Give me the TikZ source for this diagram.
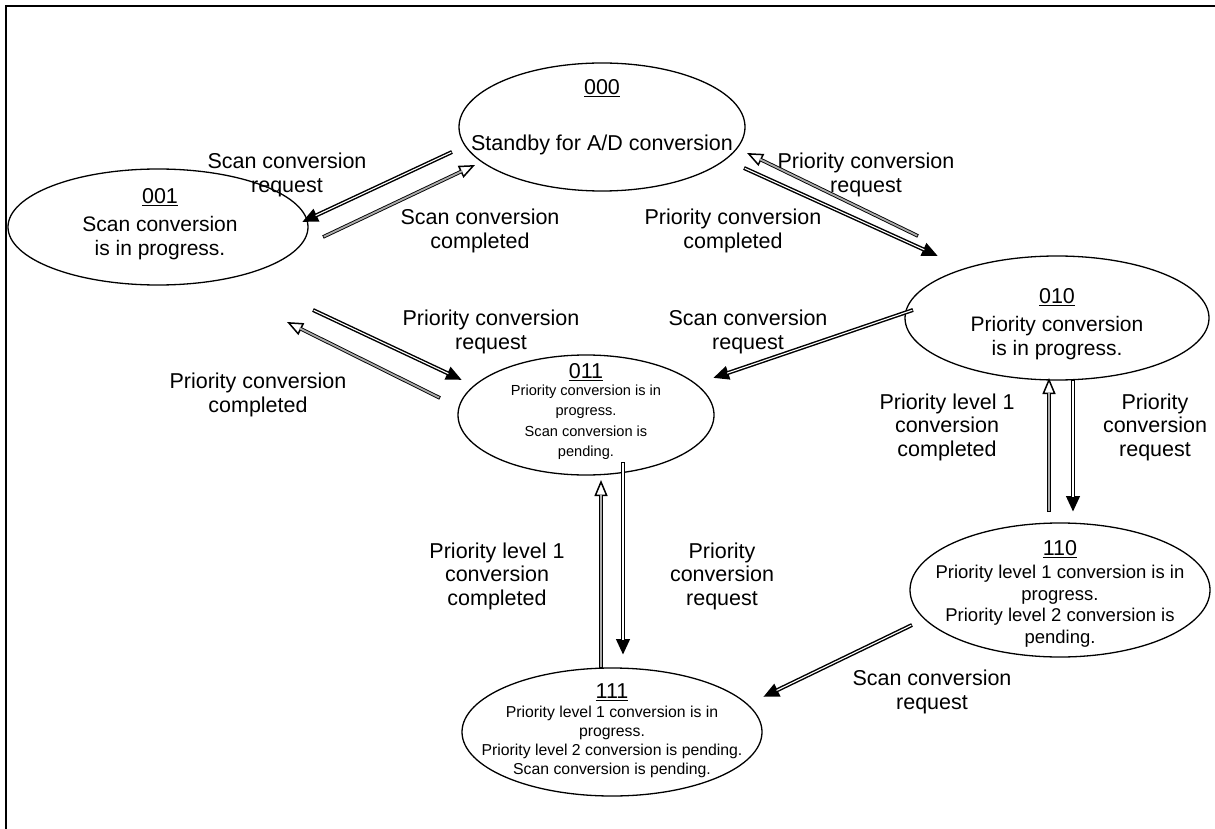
\documentclass[tikz,border=0pt]{standalone}
\usepackage{fontspec}
\setmainfont{Liberation Sans}
\usetikzlibrary{shapes.geometric,arrows.meta}
\begin{document}
\begin{tikzpicture}[x=1pt,y=-1pt,
  state/.style={ellipse, draw, line width=1.3pt, inner sep=0pt},
  codetext/.style={font=\fontsize{21.5}{23}\selectfont, inner sep=0pt},
  bigtext/.style={font=\fontsize{21}{23.5}\selectfont, align=center, inner sep=0pt},
  lbl/.style={font=\fontsize{21.5}{23.5}\selectfont, align=center, inner sep=0pt},
  req/.style={line width=4pt, -{Triangle[length=16pt,width=13pt]},
    postaction={draw=white, line width=1.1pt, -, shorten >=15pt, shorten <=0.8pt}},
  comp/.style={line width=3.6pt, -{Triangle[open, length=16pt, width=13pt, line width=1.5pt, fill=white]},
    postaction={draw=gray!65, line width=1.8pt, -, shorten >=14pt, shorten <=0.8pt}}
]
\useasboundingbox (0,0) rectangle (1215,829);
\draw[line width=2pt] (6,829) coordinate (fa) -- (6,6) coordinate (fb) -- (1215,6) coordinate (fc);

% states
\node[state, minimum width=286pt, minimum height=128pt] (e000) at (602,127) {};
\node[state, minimum width=300pt, minimum height=116pt] (e001) at (158,227) {};
\node[state, minimum width=304pt, minimum height=124pt] (e010) at (1057,318) {};
\node[state, minimum width=256pt, minimum height=120pt] (e011) at (586,415) {};
\node[state, minimum width=300pt, minimum height=134pt] (e110) at (1060,590) {};
\node[state, minimum width=300pt, minimum height=128pt] (e111) at (612,732) {};

% state texts
\node[codetext] (c000) at (602,88) {\underline{000}};
\node[bigtext, font=\fontsize{21.5}{23.5}\selectfont] (t000) at (602,145) {Standby for A/D conversion};
\node[codetext] (c001) at (160,197) {\underline{001}};
\node[bigtext] (t001) at (160,238) {Scan conversion\\is in progress.};
\node[codetext] (c010) at (1057,297) {\underline{010}};
\node[bigtext] (t010) at (1057,338) {Priority conversion\\is in progress.};
\node[codetext] (c011) at (586,372) {\underline{011}};
\node[font=\fontsize{14.6}{20.5}\selectfont, align=center, inner sep=0pt] (t011) at (586,422)
  {Priority conversion is in\\progress.\\Scan conversion is\\pending.};
\node[codetext] (c110) at (1060,549) {\underline{110}};
\node[font=\fontsize{18.5}{21.5}\selectfont, align=center, inner sep=0pt] (t110) at (1060,606)
  {Priority level 1 conversion is in\\progress.\\Priority level 2 conversion is\\pending.};
\node[codetext] (c111) at (612,692) {\underline{111}};
\node[font=\fontsize{15.8}{19}\selectfont, align=center, inner sep=0pt] (t111) at (612,742)
  {Priority level 1 conversion is in\\progress.\\Priority level 2 conversion is pending.\\Scan conversion is pending.};

% edge labels
\node[lbl] (l1) at (287,175) {Scan conversion\\request};
\node[lbl] (l2) at (480,231) {Scan conversion\\completed};
\node[lbl] (l3) at (866,175) {Priority conversion\\request};
\node[lbl] (l4) at (733,231) {Priority conversion\\completed};
\node[lbl] (l5) at (491,332) {Priority conversion\\request};
\node[lbl] (l6) at (258,395) {Priority conversion\\completed};
\node[lbl] (l7) at (748,332) {Scan conversion\\request};
\node[lbl] (l8) at (947,427) {Priority level 1\\conversion\\completed};
\node[lbl] (l9) at (1155,427) {Priority\\conversion\\request};
\node[lbl] (l10) at (497,576) {Priority level 1\\conversion\\completed};
\node[lbl] (l11) at (722,576) {Priority\\conversion\\request};
\node[lbl] (l12) at (932,692) {Scan conversion\\request};

% connector end points
\coordinate (a1s) at (452,152);  \coordinate (a1e) at (302,222);
\coordinate (a2s) at (323,237);  \coordinate (a2e) at (475,165);
\coordinate (a3s) at (744,168);  \coordinate (a3e) at (938,256);
\coordinate (a4s) at (918,236);  \coordinate (a4e) at (747,153);
\coordinate (a5s) at (313,310);  \coordinate (a5e) at (462,380);
\coordinate (a6s) at (440,398);  \coordinate (a6e) at (287,322);
\coordinate (a7s) at (913,310);  \coordinate (a7e) at (713,378);
\coordinate (a8s) at (623,462);  \coordinate (a8e) at (623,655);
\coordinate (a9s) at (601,668);  \coordinate (a9e) at (601,480);
\coordinate (a10s) at (1073,380); \coordinate (a10e) at (1073,512);
\coordinate (a11s) at (1049,512); \coordinate (a11e) at (1049,378);
\coordinate (a12s) at (912,625); \coordinate (a12e) at (763,697);

\draw[req]  (a1s) -- (a1e);
\draw[comp] (a2s) -- (a2e);
\draw[req]  (a3s) -- (a3e);
\draw[comp] (a4s) -- (a4e);
\draw[req]  (a5s) -- (a5e);
\draw[comp] (a6s) -- (a6e);
\draw[req]  (a7s) -- (a7e);
\draw[req]  (a8s) -- (a8e);
\draw[comp] (a9s) -- (a9e);
\draw[req]  (a10s) -- (a10e);
\draw[comp] (a11s) -- (a11e);
\draw[req]  (a12s) -- (a12e);
\end{tikzpicture}
\end{document}
